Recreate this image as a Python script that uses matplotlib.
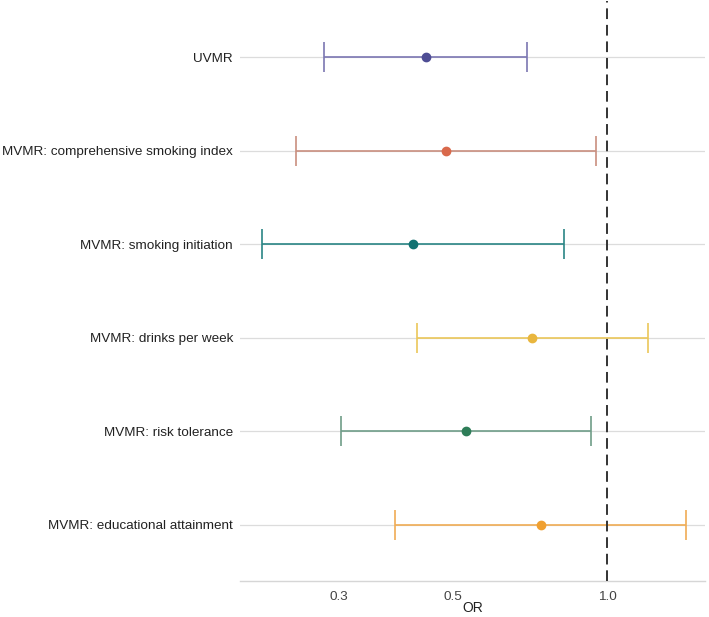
import matplotlib.pyplot as plt
from matplotlib.ticker import FixedLocator, NullLocator

plt.rcParams['font.family'] = ['Liberation Sans', 'DejaVu Sans']

labels = ['UVMR', 'MVMR: comprehensive smoking index', 'MVMR: smoking initiation',
          'MVMR: drinks per week', 'MVMR: risk tolerance', 'MVMR: educational attainment']
or_est = [0.443, 0.485, 0.418, 0.714, 0.530, 0.743]
ci_low = [0.280, 0.247, 0.212, 0.426, 0.303, 0.385]
ci_high = [0.698, 0.952, 0.825, 1.20, 0.931, 1.425]
line_colors = ['#7b77b2', '#c98f7f', '#2a8585', '#ebc75a', '#6f9d88', '#f0ac55']
point_colors = ['#4e4d94', '#d9694b', '#127272', '#e9b63e', '#2e7d58', '#f0a030']
ticks = [0.3, 0.5, 1.0]

fig = plt.figure(figsize=(7.09, 6.17), dpi=100)
ax = fig.add_axes([240 / 709, 36 / 617, 465 / 709, 580 / 617])

n = len(labels)
ypos = list(range(n - 1, -1, -1))
for y in ypos:
    ax.axhline(y, color='#dcdcdc', lw=0.9, zorder=0)

for i in range(n):
    y = ypos[i]
    ax.errorbar(or_est[i], y, xerr=[[or_est[i] - ci_low[i]], [ci_high[i] - or_est[i]]],
                fmt='none', ecolor=line_colors[i], elinewidth=1.2, capsize=10.5, capthick=1.2, zorder=2)
    ax.plot(or_est[i], y, 'o', color=point_colors[i], ms=6, zorder=3)

ax.axvline(1.0, color='#333333', ls=(0, (5.5, 3)), lw=1.4, zorder=4)

ax.set_xscale('log')
ax.set_xlim(0.192, 1.554)
ax.set_ylim(-0.6, n - 0.4)
ax.xaxis.set_major_locator(FixedLocator(ticks))
ax.xaxis.set_minor_locator(NullLocator())
ax.set_xticklabels(['%.1f' % t for t in ticks])
ax.set_yticks(ypos)
ax.set_yticklabels(labels)
ax.tick_params(axis='both', length=0, labelsize=9.7, colors='#222222')
ax.tick_params(axis='x', pad=7, labelcolor='#444444')
ax.tick_params(axis='y', pad=5)
ax.set_xlabel('OR', fontsize=10, color='#222222', labelpad=-1)

for s in ['top', 'right', 'left']:
    ax.spines[s].set_visible(False)
ax.spines['bottom'].set_color('#d6d6d6')
ax.spines['bottom'].set_linewidth(1.0)

fig.savefig('out.png', dpi=100)
